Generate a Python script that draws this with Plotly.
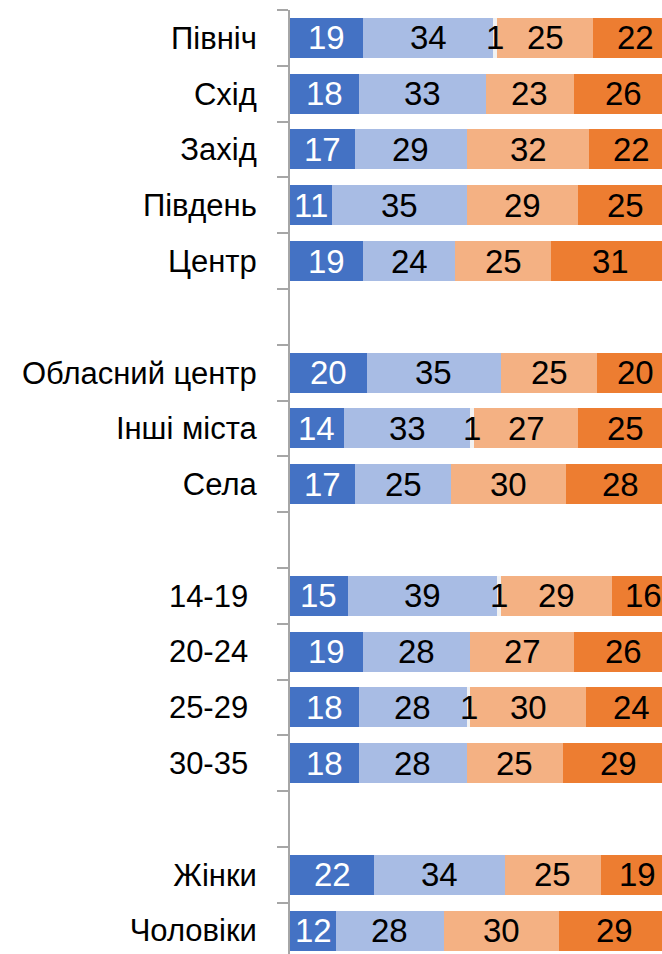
import plotly.graph_objects as go

# ---- data ----
regions = ["Північ", "Схід", "Захід", "Південь", "Центр"]
settlements = ["Обласний центр", "Інші міста", "Села"]
ages = ["14-19", "20-24", "25-29", "30-35"]
genders = ["Жінки", "Чоловіки"]

s1 = [19, 18, 17, 11, 19,  20, 14, 17,  15, 19, 18, 18,  22, 12]
s2 = [34, 33, 29, 35, 24,  35, 33, 25,  39, 28, 28, 28,  34, 28]
s3 = [1, 0, 0, 0, 0,       0, 1, 0,     1, 0, 1, 0,      0, 0]
s4 = [25, 23, 32, 29, 25,  25, 27, 30,  29, 27, 30, 25,  25, 30]
s5 = [22, 26, 22, 25, 31,  20, 25, 28,  16, 26, 24, 29,  19, 29]

# ---- build rows with blank gap rows between groups ----
NB = "\u00a0"
groups = [regions, settlements, [a + NB for a in ages], genders]
rows = []          # category names (gap rows are unique blank strings)
data_idx = []      # index into series, or None for gaps
k = 0
for gi, g in enumerate(groups):
    for name in g:
        rows.append(name)
        data_idx.append(k)
        k += 1
    if gi < len(groups) - 1:
        rows.append(NB * (gi + 2) + "\u200b")
        data_idx.append(None)

def col(series):
    return [None if i is None else series[i] for i in data_idx]

FONT = "Liberation Sans, Arial, sans-serif"
series = [
    (s1, "#4472C4", "white"),
    (s2, "#A8BCE4", "black"),
    (s3, "#F2F2F2", "black"),
    (s4, "#F4B183", "black"),
    (s5, "#ED7D31", "black"),
]

fig = go.Figure()
annotations = []
cum = [0.0] * len(rows)
for vals, color, tcolor in series:
    xs = col(vals)
    fig.add_trace(go.Bar(
        y=rows, x=xs, orientation="h",
        marker=dict(color=color, line=dict(width=0)),
        hoverinfo="skip", showlegend=False,
    ))
    for r, v in enumerate(xs):
        if v is None:
            continue
        if v > 0:
            annotations.append(dict(
                x=cum[r] + v / 2, y=rows[r], xref="x", yref="y",
                text=str(v), showarrow=False, xanchor="center", yanchor="middle",
                font=dict(family=FONT, size=33, color=tcolor),
            ))
        cum[r] += v

n = len(rows)
fig.update_layout(
    barmode="stack", bargap=0.283,
    width=662, height=954,
    margin=dict(l=290, r=0, t=10, b=0, autoexpand=False),
    plot_bgcolor="white", paper_bgcolor="white",
    font=dict(family=FONT, size=31, color="black"),
    annotations=annotations,
)
fig.update_xaxes(range=[0, 96.9], visible=False, showgrid=False, zeroline=False)
fig.update_yaxes(
    type="category", categoryorder="array", categoryarray=rows,
    range=[-0.5 + 16.92, -0.5], automargin=False,
    showgrid=False, zeroline=False,
    showline=True, linecolor="#A6A6A6", linewidth=2,
    ticks="outside", tickson="boundaries", ticklen=11, tickwidth=2, tickcolor="#A6A6A6",
    ticklabelstandoff=25,
    tickfont=dict(family=FONT, size=31, color="black"),
)

fig.write_html(
    "out.html",
    config={"displayModeBar": False},
    post_script="document.body.style.margin='0';document.body.style.overflow='hidden';",
)
